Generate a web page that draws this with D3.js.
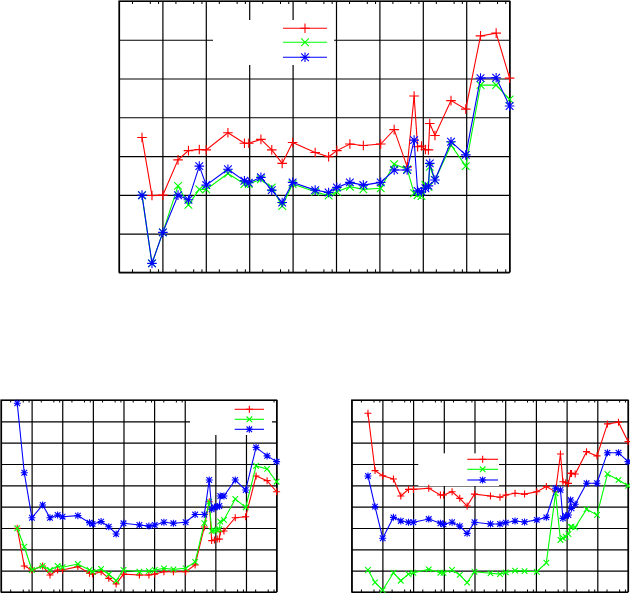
<!DOCTYPE html>
<html><head><meta charset="utf-8">
<script src="https://cdn.jsdelivr.net/npm/d3@7"></script>
<style>html,body{margin:0;padding:0;background:#fff;} svg{display:block;}</style>
</head><body>
<svg id="c" width="630" height="593"></svg>
<script>
// shared x positions (log10 units)
const xValues = [0.53,0.76,1.01,1.36,1.6,1.85,2.01,2.51,2.89,2.99,3.27,3.52,3.76,4.0,4.52,4.83,5.02,5.32,5.63,6.03,6.34,6.64,6.80,6.88,6.97,7.06,7.13,7.16,7.28,7.65,7.99,8.33,8.69,9.0];
const minorFractions = [0.30, 0.71, 0.9];

const topRed   = [3.48,1.98,1.99,2.90,3.14,3.17,3.16,3.60,3.33,3.33,3.43,3.16,2.81,3.35,3.09,2.98,3.14,3.31,3.27,3.31,3.68,2.72,4.55,3.24,3.26,3.17,3.16,3.84,3.53,4.43,4.21,6.10,6.17,5.01];
const topGreen = [1.99,0.23,1.03,2.23,1.74,2.14,2.14,2.55,2.28,2.28,2.40,2.19,1.71,2.28,2.08,1.98,2.08,2.21,2.14,2.17,2.79,2.66,2.04,1.99,1.97,2.25,2.20,2.72,2.38,3.28,2.74,4.83,4.83,4.46];
const topBlue  = [1.99,0.23,1.03,1.99,1.87,2.74,2.25,2.66,2.36,2.31,2.45,2.12,1.80,2.32,2.12,2.06,2.19,2.32,2.25,2.32,2.64,2.64,3.41,2.10,2.08,2.17,2.23,2.81,2.38,3.37,3.03,5.01,5.02,4.29];

const blRed   = [2.99,1.22,1.03,1.22,0.80,1.03,1.03,1.19,0.88,0.84,0.95,0.64,0.38,0.84,0.80,0.80,0.84,0.95,0.95,0.95,1.27,3.05,4.23,2.41,2.44,2.48,2.48,2.83,2.86,3.48,3.53,5.44,5.22,4.70];
const blGreen = [2.99,2.12,1.03,1.22,1.03,1.22,1.16,1.31,1.03,0.95,1.08,0.83,0.53,1.03,0.95,0.98,1.03,1.11,1.06,1.11,1.41,3.23,4.23,2.86,2.88,2.91,2.95,3.30,3.38,4.36,3.97,5.91,5.77,5.17];
const blBlue  = [8.85,5.59,3.48,4.08,3.48,3.61,3.53,3.58,3.25,3.19,3.30,3.06,2.72,3.22,3.14,3.09,3.14,3.27,3.22,3.27,3.63,3.63,5.25,3.88,3.97,4.00,4.03,4.50,4.50,5.25,4.78,6.78,6.38,6.11];

const brRed   = [8.38,5.69,5.45,5.30,4.50,4.81,4.81,4.86,4.55,4.55,4.70,4.39,4.03,4.59,4.50,4.44,4.55,4.63,4.59,4.70,4.94,4.70,6.47,5.17,5.12,5.09,5.56,5.56,5.53,6.58,6.38,7.88,7.96,7.05];
const brGreen = [1.03,0.45,0.09,0.90,0.53,0.84,0.90,1.06,0.90,0.90,1.03,0.80,0.44,0.95,0.88,0.84,0.92,1.00,0.98,0.95,1.37,4.63,2.44,2.53,2.59,2.72,3.05,3.06,3.03,3.88,3.61,5.53,5.25,4.98];
const brBlue  = [5.44,4.00,2.52,3.50,3.33,3.27,3.27,3.42,3.22,3.17,3.27,3.09,2.75,3.27,3.19,3.19,3.25,3.33,3.28,3.38,3.50,4.86,4.78,3.45,3.56,3.61,4.31,3.92,4.11,5.10,5.10,6.53,6.53,6.11];

const xMax = 9;
const seriesColors = ["#ff0000", "#00ff00", "#0000ff"];
const seriesMarkers = ["plus", "cross", "star"];

const panels = [
  {data:[topRed, topGreen, topBlue], yMax:7, l:119, r:509.6, t:1, b:272.3, ms:4.8, tick:3,
   leg:{x0:213, x1:334, y0:20, y1:65, s0:283, s1:327, rows:[28.3,42.3,57.3]}},
  {data:[blRed, blGreen, blBlue], yMax:9, l:1, r:276.6, t:400, b:592, ms:3.5, tick:2.5,
   leg:{x0:190, x1:272, y0:401, y1:435, s0:234.7, s1:264, rows:[409.3,419.3,429.3]}},
  {data:[brRed, brGreen, brBlue], yMax:9, l:351.7, r:628, t:400, b:592, ms:3.5, tick:2.5,
   leg:{x0:418.3, x1:499, y0:453.3, y1:486, s0:467.3, s1:498, rows:[459.3,469.3,480]}}
];

function markerPath(type, s) {
  const c = s * 0.8;
  const plus = `M${-s},0H${s}M0,${-s}V${s}`;
  const cross = `M${-c},${-c}L${c},${c}M${-c},${c}L${c},${-c}`;
  if (type === "plus") return plus;
  if (type === "cross") return cross;
  return plus + cross;
}

const svg = d3.select("#c");

panels.forEach(p => {
  const x = d3.scaleLinear().domain([0, xMax]).range([p.l, p.r]);
  const y = d3.scaleLinear().domain([0, p.yMax]).range([p.b, p.t]);
  const g = svg.append("g");
  const w = p.r - p.l, h = p.b - p.t;

  const gx = g.append("g").attr("transform", `translate(0,${p.b})`)
    .call(d3.axisBottom(x).tickValues(d3.range(0, xMax + 1)).tickSize(-h).tickFormat(""));
  const gy = g.append("g").attr("transform", `translate(${p.l},0)`)
    .call(d3.axisLeft(y).tickValues(d3.range(0, p.yMax + 1)).tickSize(-w).tickFormat(""));
  [gx, gy].forEach(a => {
    a.select(".domain").remove();
    a.selectAll("line").attr("stroke", "#000").attr("stroke-width", 1.2);
  });

  const minor = [];
  for (let i = 0; i < xMax; i++) minorFractions.forEach(f => minor.push(i + f));
  const mb = g.append("g").attr("transform", `translate(0,${p.b})`)
    .call(d3.axisBottom(x).tickValues(minor).tickSize(-p.tick).tickFormat(""));
  const mt = g.append("g").attr("transform", `translate(0,${p.t})`)
    .call(d3.axisTop(x).tickValues(minor).tickSize(-p.tick).tickFormat(""));
  [mb, mt].forEach(a => {
    a.select(".domain").remove();
    a.selectAll("line").attr("stroke", "#000").attr("stroke-width", 1);
  });

  g.append("rect").attr("x", p.l).attr("y", p.t).attr("width", w).attr("height", h)
    .attr("fill", "none").attr("stroke", "#000").attr("stroke-width", 1.2);

  const L = p.leg;
  g.append("rect").attr("x", L.x0).attr("y", L.y0).attr("width", L.x1 - L.x0).attr("height", L.y1 - L.y0)
    .attr("fill", "#fff");
  L.rows.forEach((ry, i) => {
    g.append("line").attr("x1", L.s0).attr("x2", L.s1).attr("y1", ry).attr("y2", ry)
      .attr("stroke", seriesColors[i]).attr("stroke-width", 1.1);
    g.append("path").attr("d", markerPath(seriesMarkers[i], p.ms))
      .attr("transform", `translate(${(L.s0 + L.s1) / 2},${ry})`)
      .attr("stroke", seriesColors[i]).attr("stroke-width", 1.1).attr("fill", "none");
  });

  const line = d3.line().x((d, i) => x(xValues[i])).y(d => y(d));
  p.data.forEach((vals, si) => {
    g.append("path").datum(vals).attr("d", line)
      .attr("fill", "none").attr("stroke", seriesColors[si]).attr("stroke-width", 1.1);
    g.append("g").selectAll("path").data(vals).join("path")
      .attr("d", markerPath(seriesMarkers[si], p.ms))
      .attr("transform", (d, i) => `translate(${x(xValues[i])},${y(d)})`)
      .attr("stroke", seriesColors[si]).attr("stroke-width", 1.1).attr("fill", "none");
  });
});
</script>
</body></html>
